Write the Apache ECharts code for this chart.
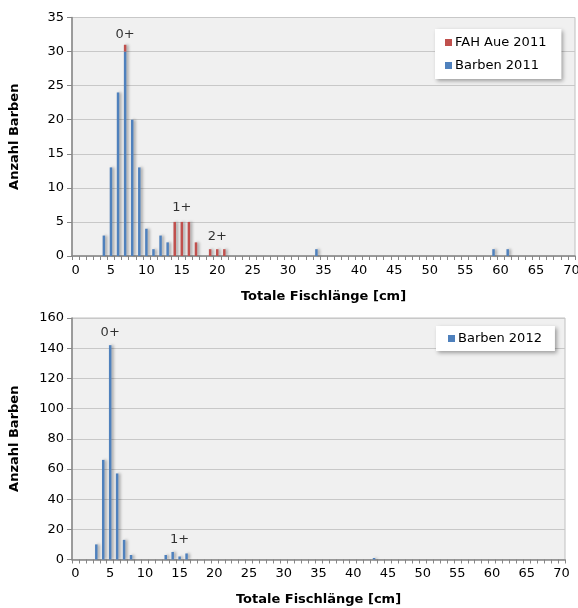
<!DOCTYPE html>
<html><head><meta charset="utf-8">
<script src="https://cdn.jsdelivr.net/npm/echarts@6/dist/echarts.min.js"></script>
<style>html,body{margin:0;padding:0;background:#fff}#c{width:578px;height:608px}</style>
</head><body><div id="c"></div>
<script>
// categories: total fish length [cm]
const categories = ['0','1','2','3','4','5','6','7','8','9','10','11','12','13','14','15','16','17','18','19','20',
'21','22','23','24','25','26','27','28','29','30','31','32','33','34','35','36','37','38','39','40',
'41','42','43','44','45','46','47','48','49','50','51','52','53','54','55','56','57','58','59','60',
'61','62','63','64','65','66','67','68','69','70'];

// 2011: Barben
const barben2011Len   = ['4','5','6','7','8','9','10','11','12','13','34','59','61'];
const barben2011Count = [3, 13, 24, 30, 20, 13, 4, 1, 3, 2, 1, 1, 1];
// 2011: FAH Aue
const fah2011Len   = ['7','14','15','16','17','19','20','21'];
const fah2011Count = [1, 5, 5, 5, 2, 1, 1, 1];
// 2012: Barben
const barben2012Len   = ['3','4','5','6','7','8','13','14','15','16','43'];
const barben2012Count = [10, 66, 142, 57, 13, 3, 3, 5, 2, 4, 1];

// age-class annotations
const ann2011Text = ['0+','1+','2+'];
const ann2011X = ['7','15','20'];
const ann2011Y = [32.5, 7.1, 2.9];
const ann2012Text = ['0+','1+'];
const ann2012X = ['5','15'];
const ann2012Y = [150, 13.4];

const y2011Ticks = [0,5,10,15,20,25,30,35];
const y2012Ticks = [0,20,40,60,80,100,120,140,160];

function toSeries(lens, counts){
  const m = {};
  lens.forEach((l,i)=>{ m[l]=counts[i]; });
  return categories.map(c => (c in m) ? m[c] : null);
}
function annData(txt, xs, ys){
  return txt.map((t,i)=>({name:t, value:[xs[i], ys[i]]}));
}

const FONT = '"DejaVu Sans", sans-serif';
const BLUE = '#4f81bd', RED = '#c0504d';
const barShadow = {shadowColor:'rgba(0,0,0,0.35)', shadowBlur:3, shadowOffsetX:2, shadowOffsetY:0};

function xAxisCfg(gi){
  return {
    type:'category', gridIndex:gi, data:categories, boundaryGap:true,
    name:'Totale Fischlänge [cm]', nameLocation:'middle', nameGap:34,
    nameTextStyle:{fontFamily:FONT, fontSize:13, fontWeight:'bold', color:'#000'},
    axisLine:{lineStyle:{color:'#868686', width:1.5}},
    axisTick:{show:true, interval:0, length:4, lineStyle:{color:'#868686'}},
    axisLabel:{interval:4, fontFamily:FONT, fontSize:13, color:'#000', margin:8},
    splitLine:{show:false}
  };
}
function yAxisCfg(gi, ticks){
  return {
    type:'value', gridIndex:gi, min:ticks[0], max:ticks[ticks.length-1], interval:ticks[1]-ticks[0],
    name:'Anzahl Barben', nameLocation:'middle', nameGap:51, nameRotate:90,
    nameTextStyle:{fontFamily:FONT, fontSize:13, fontWeight:'bold', color:'#000'},
    axisLine:{show:true, lineStyle:{color:'#868686', width:1.5}},
    axisTick:{show:true, length:5, lineStyle:{color:'#868686'}},
    axisLabel:{fontFamily:FONT, fontSize:13, color:'#000', margin:8},
    splitLine:{show:true, lineStyle:{color:'#c8c8c8', width:1}}
  };
}
function annSeries(xi, yi, data){
  return {
    type:'scatter', xAxisIndex:xi, yAxisIndex:yi, data:data, symbolSize:1, silent:true,
    itemStyle:{color:'rgba(0,0,0,0)'},
    label:{show:true, position:'inside', formatter:p=>p.name, fontFamily:FONT, fontSize:13, color:'#000'},
    z:5
  };
}

const chart = echarts.init(document.getElementById('c'), null, {renderer:'canvas'});
chart.setOption({
  animation:false,
  backgroundColor:'#fff',
  grid:[
    {left:72, top:17.5, width:503, height:238.5, outerBoundsMode:'none', containLabel:false,
     show:true, backgroundColor:'#f0f0f0', borderColor:'#c0c0c0', borderWidth:1},
    {left:72, top:318, width:493, height:241.5, outerBoundsMode:'none', containLabel:false,
     show:true, backgroundColor:'#f0f0f0', borderColor:'#c0c0c0', borderWidth:1}
  ],
  legend:[
    {data:['FAH Aue 2011','Barben 2011'], orient:'vertical', left:435, top:29,
     backgroundColor:'#fff', padding:[7,15,7,10], itemGap:10, itemWidth:7, itemHeight:7, icon:'rect',
     shadowColor:'rgba(0,0,0,0.35)', shadowBlur:4, shadowOffsetX:2, shadowOffsetY:2,
     textStyle:{fontFamily:FONT, fontSize:13, color:'#000', padding:[0,0,0,-2]}},
    {data:['Barben 2012'], orient:'vertical', left:436, top:326,
     backgroundColor:'#fff', padding:[6,13,6,12], itemWidth:7, itemHeight:7, icon:'rect',
     shadowColor:'rgba(0,0,0,0.35)', shadowBlur:4, shadowOffsetX:2, shadowOffsetY:2,
     textStyle:{fontFamily:FONT, fontSize:13, color:'#000', padding:[0,0,0,-2]}}
  ],
  xAxis:[xAxisCfg(0), xAxisCfg(1)],
  yAxis:[yAxisCfg(0, y2011Ticks), yAxisCfg(1, y2012Ticks)],
  series:[
    {name:'Barben 2011', type:'bar', xAxisIndex:0, yAxisIndex:0, stack:'y2011', barWidth:2.5,
     data:toSeries(barben2011Len, barben2011Count), itemStyle:Object.assign({color:BLUE}, barShadow)},
    {name:'FAH Aue 2011', type:'bar', xAxisIndex:0, yAxisIndex:0, stack:'y2011', barWidth:2.5,
     data:toSeries(fah2011Len, fah2011Count), itemStyle:Object.assign({color:RED}, barShadow)},
    {name:'Barben 2012', type:'bar', xAxisIndex:1, yAxisIndex:1, barWidth:2.5,
     data:toSeries(barben2012Len, barben2012Count), itemStyle:Object.assign({color:BLUE}, barShadow)},
    annSeries(0, 0, annData(ann2011Text, ann2011X, ann2011Y)),
    annSeries(1, 1, annData(ann2012Text, ann2012X, ann2012Y))
  ]
});
</script></body></html>
